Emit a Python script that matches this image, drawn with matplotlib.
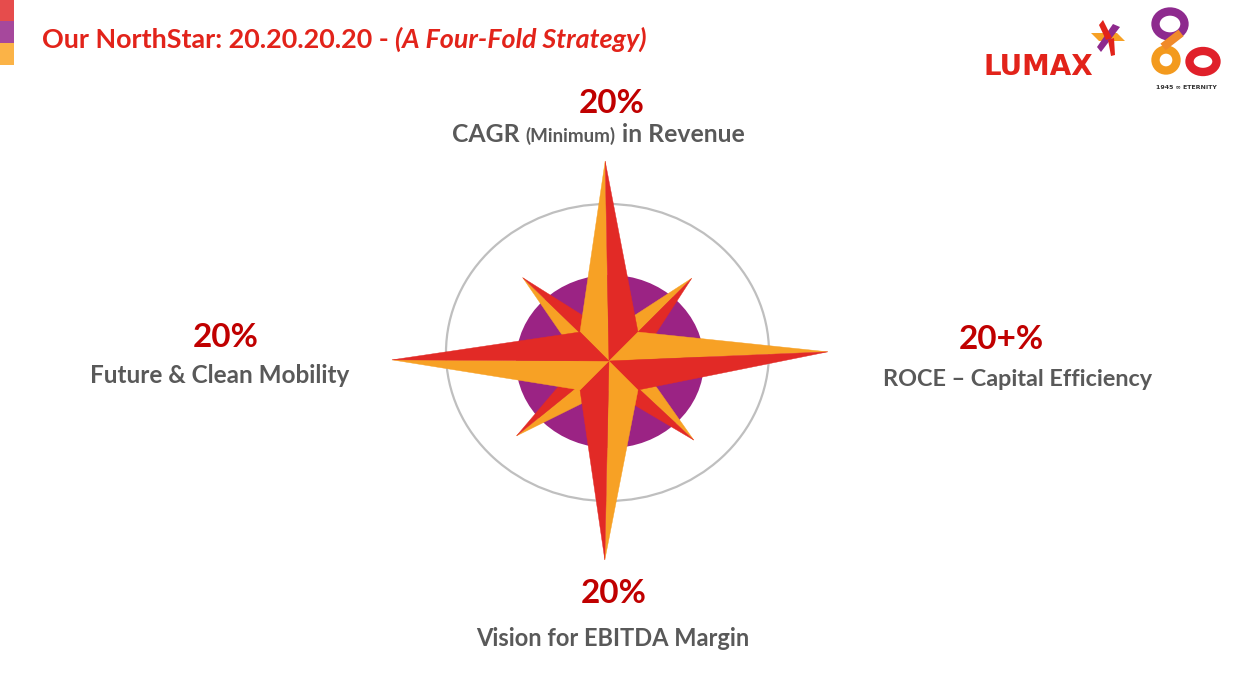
import numpy as np
import matplotlib
matplotlib.use('Agg')
import matplotlib.pyplot as plt
from matplotlib.patches import Polygon, Ellipse, Rectangle

plt.rcParams['font.family'] = ['Lato', 'DejaVu Sans']

# ---- content ----
title_main = "Our NorthStar: 20.20.20.20 - "
title_ital = "(A Four-Fold Strategy)"

goal_values = ["20%", "20+%", "20%", "20%"]
goal_labels = [
    [("CAGR ", 17.8), ("(Minimum)", 13.5), (" in Revenue", 17.8)],
    [("ROCE \u2013 Capital Efficiency", 16.8)],
    [("Vision for EBITDA Margin", 17)],
    [("Future & Clean Mobility", 17.5)],
]
# order: N, E, S, W
value_x = [612, 1001, 614, 226]
value_base = [113, 349, 603, 347]
label_x = [598, 1018, 613, 220]
label_base = [142, 386, 646, 383]

# compass rose geometry (pixel units)
center = (609, 361)
long_angles = [91.1, 2.4, 268.8, 179.7]     # N, E, S, W
long_len = [200, 219, 199, 217]
waist_r = 41
diag_angles = [45, 136, 219, 317]           # NE, NW, SW, SE
diag_len = [117, 120, 119, 116]
diag_base_r = 29

orange = "#F7A125"
red = "#E22A26"
purple = "#9B2384"


def pt(r, a):
    a = np.radians(a)
    return (center[0] + r * np.cos(a), center[1] - r * np.sin(a))


fig = plt.figure(figsize=(12.51, 6.80), dpi=100)
ax = fig.add_axes([0, 0, 1, 1])
ax.set_xlim(0, 1251)
ax.set_ylim(680, 0)
ax.axis('off')

# side colour bar
for y0, h, c in [(0, 21, "#E64C4C"), (21, 22, "#A6489C"), (43, 22, "#FBB347")]:
    ax.add_patch(Rectangle((0, y0), 14, h, color=c, lw=0))

# circles
ax.add_patch(Ellipse((607.5, 352.5), 323, 297, fill=False, ec="#BFBFBF", lw=1.6))
ax.add_patch(Ellipse((610, 361.5), 188, 173, color=purple, lw=0))

# diagonal (short) points
nominal_diag = [45, 135, 225, 315]
for a, nom, L in zip(diag_angles, nominal_diag, diag_len):
    tip = pt(L, a)
    ax.add_patch(Polygon([center, tip, pt(diag_base_r, nom + 45)], closed=True,
                         fc=orange, ec=orange, lw=0.3))
    ax.add_patch(Polygon([center, tip, pt(diag_base_r, nom - 45)], closed=True,
                         fc=red, ec=red, lw=0.3))

# main points
nominal_long = [90, 0, 270, 180]
for a, nom, L in zip(long_angles, nominal_long, long_len):
    tip = pt(L, a)
    ax.add_patch(Polygon([center, tip, pt(waist_r, nom + 45)], closed=True,
                         fc=orange, ec=orange, lw=0.3))
    ax.add_patch(Polygon([center, tip, pt(waist_r, nom - 45)], closed=True,
                         fc=red, ec=red, lw=0.3))

fig.canvas.draw()
renderer = fig.canvas.get_renderer()
inv = ax.transData.inverted()


def width_of(t):
    bb = t.get_window_extent(renderer=renderer)
    x0 = inv.transform((bb.x0, bb.y0))[0]
    x1 = inv.transform((bb.x1, bb.y0))[0]
    return x1 - x0


def run_text(pieces, x, y, color):
    texts = []
    for s, size in pieces:
        texts.append(ax.text(0, y, s, fontsize=size, color=color, va='baseline',
                             ha='left', fontweight='bold'))
    widths = [width_of(t) for t in texts]
    start = x - sum(widths) / 2
    for t, w in zip(texts, widths):
        t.set_x(start)
        start += w
    return texts


# title
t1 = ax.text(42, 48, title_main, fontsize=19.4, color="#E2231A", fontweight='bold',
             va='baseline', ha='left')
w1 = width_of(t1)
ax.text(42 + w1, 48, title_ital, fontsize=19.4, color="#E2231A", fontweight='bold',
        fontstyle='italic', va='baseline', ha='left')

# goal labels
for vx, v, vb in zip(value_x, goal_values, value_base):
    ax.text(vx, vb, v, fontsize=24, color="#C00000", fontweight='bold',
            ha='center', va='baseline')
for lx, lab, lb in zip(label_x, goal_labels, label_base):
    run_text(lab, lx, lb, "#595959")

# logos
ax.text(983, 75, "LUMAX", fontsize=20, color="#E2231A", fontweight='heavy',
        ha='left', va='baseline', family='DejaVu Sans')
ax.add_patch(Polygon([(1091, 33), (1117, 33), (1125, 41), (1099, 41)], fc="#F7A125", lw=0))
ax.add_patch(Polygon([(1113, 24), (1120, 27), (1101, 52), (1097, 47)], fc="#8E2A8E", lw=0))
ax.add_patch(Polygon([(1099, 25), (1103, 20), (1112, 38), (1106, 40)], fc="#E2231A", lw=0))
ax.add_patch(Polygon([(1108, 40), (1114, 38), (1115, 55), (1111, 56)], fc="#E2231A", lw=0))

ax.add_patch(Ellipse((1170, 24), 29, 25, fill=False, ec="#8E2A8E", lw=6))
ax.add_patch(Ellipse((1203, 61.5), 27, 21, fill=False, ec="#E0202A", lw=6))
ax.add_patch(Ellipse((1166, 60), 21, 21, fill=False, ec="#F39A1E", lw=6))
ax.plot([1181, 1163], [33, 47], color="#F08A2A", lw=6, solid_capstyle='butt')
ax.text(1186, 89, "1945 \u221e ETERNITY", fontsize=4.5, color="#333333",
        fontweight='bold', ha='center', va='baseline', family='DejaVu Sans')

fig.savefig("out.png", dpi=100)
